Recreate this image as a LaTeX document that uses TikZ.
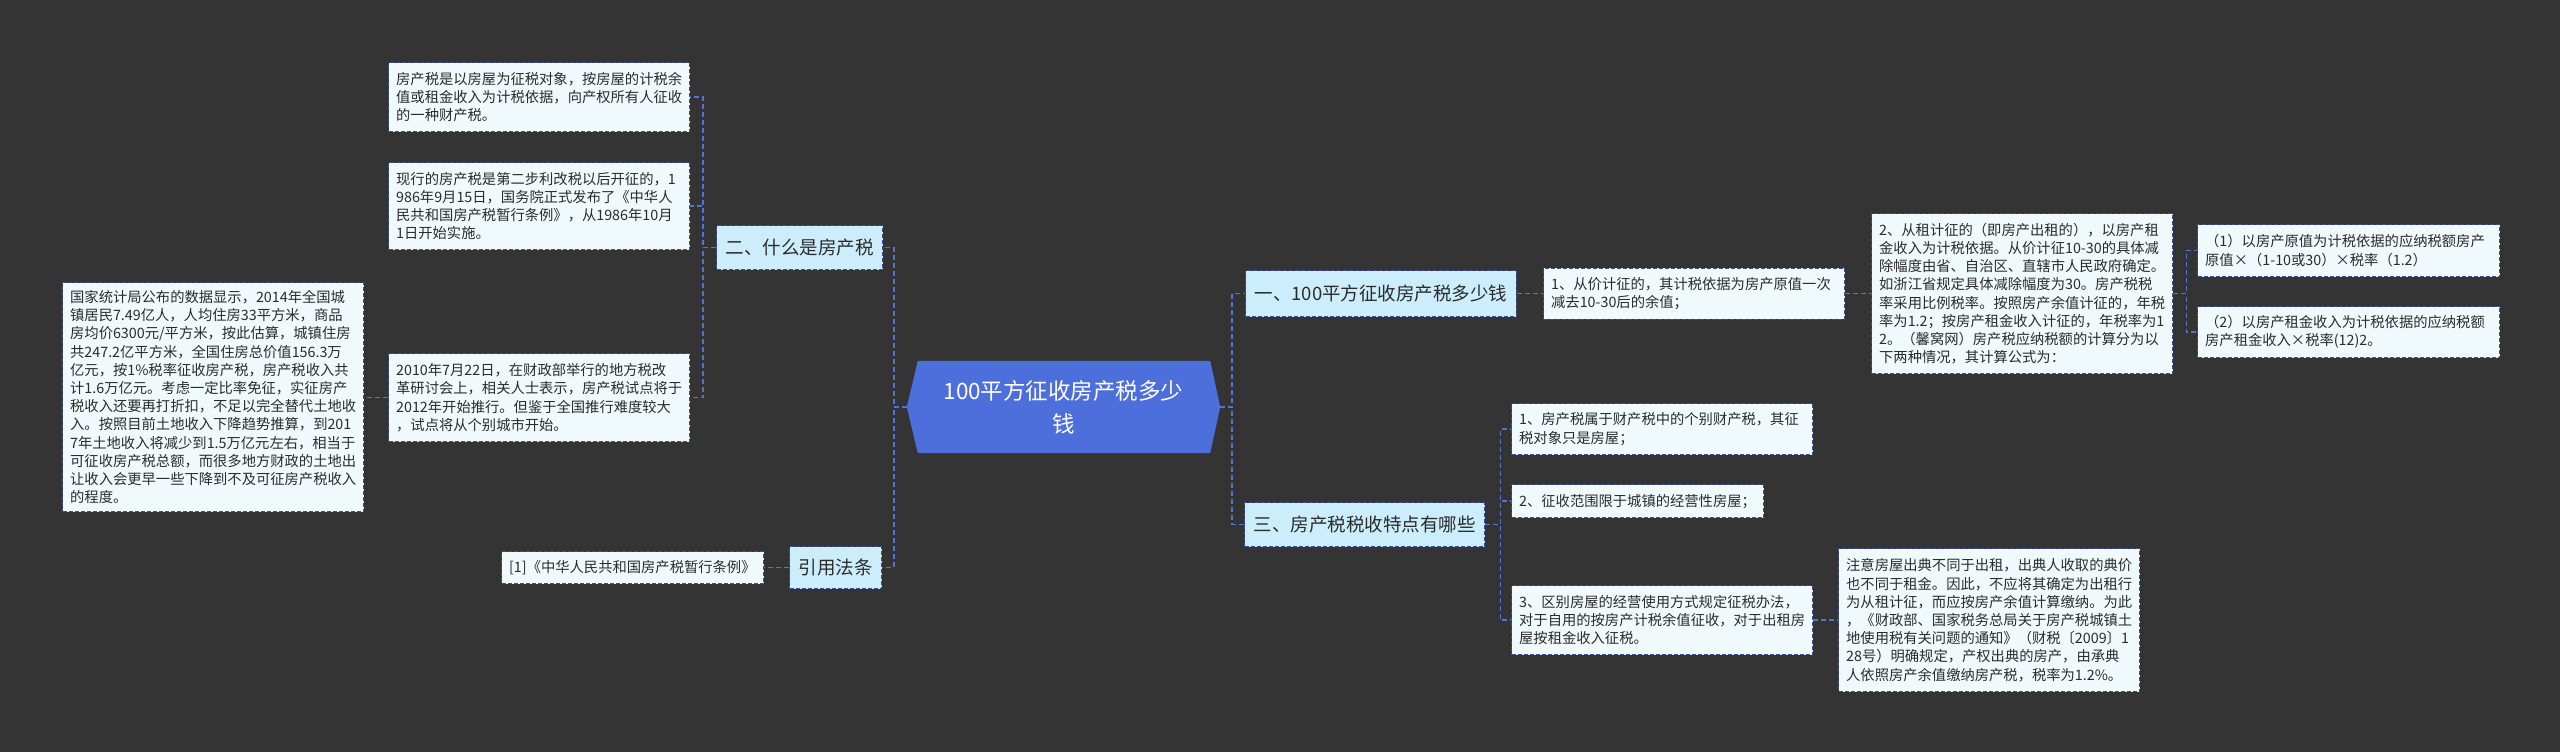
\documentclass[tikz,border=0pt]{standalone}
\usepackage{fontspec}
\setmainfont{Noto Sans CJK SC}
\newcommand\leaffont{\fontsize{14.3pt}{18.2pt}\selectfont}
\newcommand\ttlfont{\fontsize{18.5pt}{22pt}\selectfont}
\newcommand\rootfont{\fontsize{22.5pt}{33pt}\selectfont}
\definecolor{bgc}{HTML}{343434}
\definecolor{rootc}{HTML}{4D6FDC}
\definecolor{titlec}{HTML}{CCEEFC}
\definecolor{leafc}{HTML}{F0FAFD}
\definecolor{bordc}{HTML}{3D4E94}
\definecolor{connc}{HTML}{5572D4}
\definecolor{txtc}{HTML}{2B2B2B}
\pgfdeclarelayer{bgl}
\pgfsetlayers{bgl,main}
\tikzset{
  box/.style={draw=bordc, line width=1.3pt, dash pattern=on 4pt off 2pt, anchor=north west, inner ysep=0pt, text=txtc},
  leaf/.style={box, fill=leafc, font=\leaffont, align=left, inner xsep=7.5pt},
  ttl/.style={box, fill=titlec, font=\ttlfont, inner xsep=9pt},
  conn/.style={draw=connc, line width=1.5pt, dash pattern=on 5pt off 3pt},
}
\begin{document}
\begin{tikzpicture}[x=1pt,y=-1pt]
\useasboundingbox (0,0) rectangle (2560,752);
\begin{pgfonlayer}{bgl}
\fill[bgc] (0,0) rectangle (2560,752);
\end{pgfonlayer}

% root
\node[font=\rootfont, text=white, align=center, minimum width=313pt, minimum height=92pt, inner sep=0pt] (root) at (1063.5,407) {100平方征收房产税多少\\钱};
\begin{pgfonlayer}{bgl}
\fill[rootc] (root.west) -- ([xshift=11pt]root.north west) -- ([xshift=-10pt]root.north east) -- (root.east) -- ([xshift=-10pt]root.south east) -- ([xshift=11pt]root.south west) -- cycle;
\end{pgfonlayer}

% left titles
\node[ttl, minimum height=44pt] (er) at (716,225) {二、什么是房产税};
\node[ttl, minimum height=42pt] (yy) at (789,546) {引用法条};

% left leaves
\node[leaf, text width=286pt, minimum height=69pt] (la) at (388,62) {房产税是以房屋为征税对象，按房屋的计税余\\值或租金收入为计税依据，向产权所有人征收\\的一种财产税。};
\node[leaf, text width=286pt, minimum height=87pt] (lb) at (388,162) {现行的房产税是第二步利改税以后开征的，1\\986年9月15日，国务院正式发布了《中华人\\民共和国房产税暂行条例》，从1986年10月\\1日开始实施。};
\node[leaf, text width=286pt, minimum height=88pt] (lc) at (388,353) {2010年7月22日，在财政部举行的地方税改\\革研讨会上，相关人士表示，房产税试点将于\\2012年开始推行。但鉴于全国推行难度较大\\，试点将从个别城市开始。};
\node[leaf, text width=286pt, minimum height=229pt] (ld) at (62,282) {国家统计局公布的数据显示，2014年全国城\\镇居民7.49亿人，人均住房33平方米，商品\\房均价6300元/平方米，按此估算，城镇住房\\共247.2亿平方米，全国住房总价值156.3万\\亿元，按1\%税率征收房产税，房产税收入共\\计1.6万亿元。考虑一定比率免征，实征房产\\税收入还要再打折扣，不足以完全替代土地收\\入。按照目前土地收入下降趋势推算，到201\\7年土地收入将减少到1.5万亿元左右，相当于\\可征收房产税总额，而很多地方财政的土地出\\让收入会更早一些下降到不及可征房产税收入\\的程度。};
\node[leaf, text width=247pt, minimum height=32pt] (ref) at (501,551) {[1]《中华人民共和国房产税暂行条例》};

% right titles
\node[ttl, minimum height=46pt] (yi) at (1245,270) {一、100平方征收房产税多少钱};
\node[ttl, minimum height=44pt] (san) at (1244,502) {三、房产税税收特点有哪些};

% right leaves
\node[leaf, text width=286pt, minimum height=51pt] (c1) at (1543,267.5) {1、从价计征的，其计税依据为房产原值一次\\减去10-30后的余值；};
\node[leaf, text width=286pt, minimum height=160pt] (c2) at (1871,213) {2、从租计征的（即房产出租的），以房产租\\金收入为计税依据。从价计征10-30的具体减\\除幅度由省、自治区、直辖市人民政府确定。\\如浙江省规定具体减除幅度为30。房产税税\\率采用比例税率。按照房产余值计征的，年税\\率为1.2；按房产租金收入计征的，年税率为1\\2。（馨窝网）房产税应纳税额的计算分为以\\下两种情况，其计算公式为：};
\node[leaf, text width=287pt, minimum height=52pt] (p1) at (2197,224) {（1）以房产原值为计税依据的应纳税额房产\\原值×（1-10或30）×税率（1.2）};
\node[leaf, text width=287pt, minimum height=51pt] (p2) at (2197,306) {（2）以房产租金收入为计税依据的应纳税额\\房产租金收入×税率(12)2。};
\node[leaf, text width=286pt, minimum height=51pt] (t1) at (1511,403) {1、房产税属于财产税中的个别财产税，其征\\税对象只是房屋；};
\node[leaf, text width=237pt, minimum height=33pt] (t2) at (1511,484) {2、征收范围限于城镇的经营性房屋；};
\node[leaf, text width=286pt, minimum height=69pt] (t3) at (1511,585) {3、区别房屋的经营使用方式规定征税办法，\\对于自用的按房产计税余值征收，对于出租房\\屋按租金收入征税。};
\node[leaf, text width=286pt, minimum height=143pt] (note) at (1838,548) {注意房屋出典不同于出租，出典人收取的典价\\也不同于租金。因此，不应将其确定为出租行\\为从租计征，而应按房产余值计算缴纳。为此\\，《财政部、国家税务总局关于房产税城镇土\\地使用税有关问题的通知》（财税〔2009〕1\\28号）明确规定，产权出典的房产，由承典\\人依照房产余值缴纳房产税，税率为1.2\%。};

% connectors left
\draw[conn] (root.west) -- ++(-13,0) |- (er.east);
\draw[conn] (root.west) -- ++(-13,0) |- (yy.east);
\draw[conn] (er.west) -- ++(-13,0) |- (la.east);
\draw[conn] (er.west) -- ++(-13,0) |- (lb.east);
\draw[conn] (er.west) -- ++(-13,0) |- (lc.east);
\draw[conn] (lc.west) -- (lc.west -| ld.east);
\draw[conn] (yy.west) -- (ref.east);

% connectors right
\draw[conn] (root.east) -- ++(12,0) |- (yi.west);
\draw[conn] (root.east) -- ++(12,0) |- (san.west);
\draw[conn] (yi.east) -- (c1.west);
\draw[conn] (c1.east) -- (c2.west);
\draw[conn] (c2.east) -- ++(13,0) |- (p1.west);
\draw[conn] (c2.east) -- ++(13,0) |- (p2.west);
\draw[conn] (san.east) -- ++(15,0) |- (t1.west);
\draw[conn] (san.east) -- ++(15,0) |- (t2.west);
\draw[conn] (san.east) -- ++(15,0) |- (t3.west);
\draw[conn] (t3.east) -- (note.west);
\end{tikzpicture}
\end{document}
